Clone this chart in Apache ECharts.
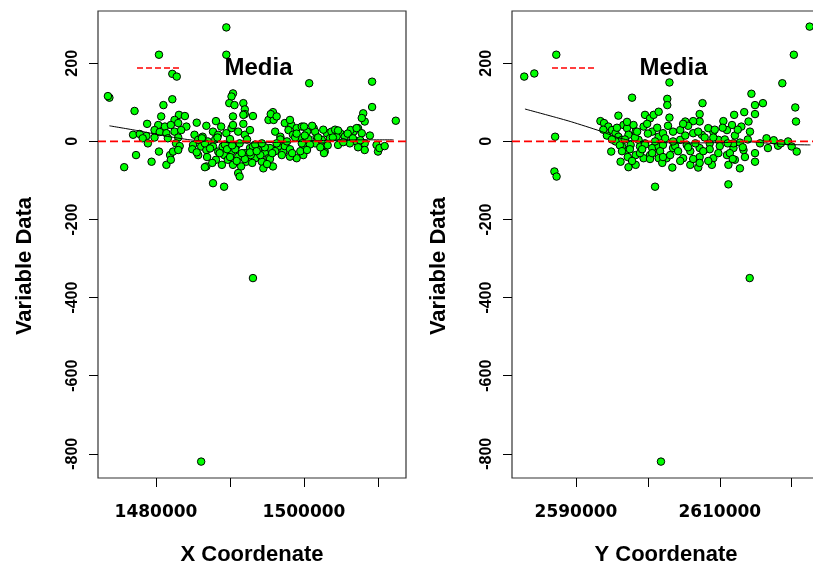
<!DOCTYPE html>
<html>
<head>
<meta charset="utf-8">
<script src="https://cdn.jsdelivr.net/npm/echarts@6.0.0/dist/echarts.min.js"></script>
<style>
  html, body { margin: 0; padding: 0; background: #fff; }
  #chart { width: 813px; height: 567px; }
</style>
</head>
<body>
<div id="chart"></div>
<script>
// Sample values plotted against the X coordinate: [X, value]
const xCoordPoints = [
  [1489500, 292], [1480400, 222], [1489500, 222], [1482200, 173], [1482800, 166],
  [1473700, 112], [1473500, 116], [1490400, 123], [1490200, 115], [1482200, 108],
  [1481000, 93], [1477100, 78], [1489900, 98], [1490600, 93], [1491800, 98],
  [1492000, 82], [1492000, 70], [1490400, 64], [1480700, 64], [1483100, 68],
  [1483900, 65], [1482500, 55], [1478800, 45], [1480300, 42], [1481200, 38],
  [1482000, 42], [1483000, 47], [1484100, 38], [1485500, 48], [1488100, 52],
  [1486800, 40], [1491800, 45], [1490200, 34], [1479800, 29], [1480500, 24],
  [1481400, 21], [1482500, 25], [1483400, 29], [1476900, 17], [1477800, 19],
  [1478700, 14], [1478200, 8], [1479800, 10], [1481600, 8], [1483000, 10],
  [1478900, -5], [1482700, -5], [1483200, -12], [1485200, 17], [1485700, 4],
  [1485000, -9], [1486300, 12], [1487000, 0], [1487700, 25], [1488400, 17],
  [1488800, 38], [1489500, 21], [1490000, 6], [1491100, 25], [1492000, 17],
  [1492700, 29], [1486100, -13], [1486800, -22], [1487700, -13], [1488400, -26],
  [1489000, -13], [1489200, -35], [1490200, -26], [1490800, -13], [1491100, -39],
  [1492000, -30], [1492700, -17], [1492200, -52], [1492900, -43], [1491500, -64],
  [1491100, -81], [1491300, -90], [1486800, -64], [1486600, -66], [1487700, -107],
  [1489200, -116], [1477300, -35], [1480400, -26], [1479400, -52], [1475700, -66],
  [1481400, -60], [1481900, -35], [1482300, -26], [1482000, -47], [1483000, -22],
  [1485700, -35], [1488100, -47], [1489700, -47], [1490400, -60], [1490400, 42],
  [1491800, 68],
  [1500700, 149], [1509200, 153], [1509200, 88], [1512400, 53], [1493100, 65],
  [1495800, 75], [1495200, 55], [1495900, 55], [1495500, 70], [1508000, 72],
  [1508200, 51], [1507800, 60], [1507300, 34], [1506700, 25], [1507800, 21],
  [1506300, 29], [1497400, 47], [1498300, 42], [1497900, 29], [1499000, 34],
  [1499700, 38], [1500400, 25], [1501300, 34], [1496100, 25], [1496800, 12],
  [1498500, 17], [1499500, 8], [1500600, 6], [1501700, 12], [1502400, 4],
  [1503100, 21], [1503700, 25], [1504900, 21], [1504600, -9], [1502800, -26],
  [1502400, -13], [1501500, -5], [1500100, -13], [1499900, -35], [1499000, -43],
  [1498100, -39], [1497200, -26], [1496500, -13], [1495400, -17], [1494700, -30],
  [1493800, -22], [1493100, -13], [1493400, -43], [1494300, -52], [1494500, -69],
  [1495800, -64], [1495200, -43], [1492800, -35], [1507100, 0], [1508200, -5],
  [1508200, -22], [1509800, -9], [1510000, -26], [1510200, -17], [1497200, 0],
  [1496300, 64], [1498100, 55], [1500000, 38], [1504400, 12], [1507100, 34],
  [1502700, -30],
  [1486600, -5], [1487300, -18], [1488000, 5], [1488600, -30], [1489300, -8],
  [1490000, -40], [1490700, -20], [1491300, -5], [1492000, -45], [1492700, -28],
  [1493400, -8], [1494100, -35], [1494700, -15], [1495400, -45], [1496100, -25],
  [1496800, 5], [1497400, -12], [1498100, -20], [1498800, 10], [1499500, -25],
  [1500100, 15], [1500800, -8], [1501500, 25], [1502200, -15], [1503500, 8],
  [1504200, 30], [1505500, 12], [1506200, -5], [1507600, 3], [1508900, 15],
  [1510900, -12],
  [1484900, -20], [1485500, -28], [1486200, 8], [1486900, -40], [1487600, -55],
  [1488300, 10], [1488900, -60], [1489600, -20], [1490300, -10], [1490900, -50],
  [1491600, -30], [1492300, 5], [1493000, -55], [1493600, -25], [1494300, -5],
  [1495000, -58], [1495700, -30], [1496300, -5], [1497000, -35], [1497700, 0],
  [1498400, -30], [1499000, 20], [1499700, -5], [1500400, -22], [1501100, 40],
  [1501900, 10], [1502600, 30], [1503200, -10], [1503900, 10], [1504600, 28],
  [1505300, -2], [1505900, 20], [1506600, 8], [1507300, -15],
  [1493100, -350], [1486100, -820]
];

// Sample values plotted against the Y coordinate: [Y, value]
const yCoordPoints = [
  [2587260, 222], [2582800, 166], [2584200, 174], [2597800, 112], [2587100, 12],
  [2587000, -77], [2587300, -90], [2595900, 66], [2593400, 52], [2593900, 47],
  [2594500, 38], [2595000, 29], [2595500, 21], [2595900, 12], [2596400, 4],
  [2596600, 42], [2597100, 34], [2597300, 17], [2598000, 42], [2598300, 25],
  [2598700, 4], [2598900, -13], [2599600, 68], [2600300, 59], [2600800, 68],
  [2601500, 76], [2599400, 38], [2600600, 25], [2601500, 12], [2599600, -5],
  [2600600, -17], [2601500, -13], [2598300, -35], [2599400, -43], [2600300, -35],
  [2601500, -43], [2594900, -26], [2596200, -52], [2597300, -66], [2598300, -60],
  [2601000, -116], [2597600, -9], [2597200, -22], [2595500, 0], [2596400, -13],
  [2622500, 294], [2620300, 222], [2618700, 149], [2614400, 122], [2603000, 151],
  [2602700, 109], [2602700, 93], [2607600, 98], [2616000, 98], [2614900, 93],
  [2614900, 70], [2613400, 75], [2620500, 87], [2620600, 51], [2603000, 61],
  [2607200, 70], [2607200, 51], [2605200, 51], [2606300, 52], [2610500, 52],
  [2612000, 68], [2614000, 51], [2613000, 38], [2614200, 25], [2611700, 42],
  [2611000, 29], [2609100, 25], [2608400, 34], [2603500, 25], [2602100, 21],
  [2604500, 29], [2606300, 21], [2607500, 17], [2616500, 8], [2618100, -11],
  [2619500, 0], [2620000, -13], [2620700, -26], [2616700, -17], [2614900, -30],
  [2614900, -52], [2613300, -22], [2611900, -17], [2612100, -47], [2612800, -69],
  [2611200, -60], [2611000, -35], [2609100, -43], [2607000, -67], [2605900, -60],
  [2603400, -67], [2611200, -110], [2604900, -43], [2602600, -43], [2603500, -17],
  [2605400, -9], [2607200, -17], [2608600, -5], [2609800, 4], [2604500, 4],
  [2602100, -9], [2611900, -5], [2615600, -5], [2618500, -5], [2617500, 3],
  [2596800, 5], [2597500, -20], [2598200, 10], [2598900, -30], [2599600, -8],
  [2600300, -45], [2601000, 0], [2601700, -25], [2602400, 8], [2603100, -35],
  [2603800, -12], [2604500, -50], [2605200, 15], [2605900, -25], [2606600, -5],
  [2607200, -40], [2607900, 10], [2608600, -20], [2609300, 30], [2610000, -12],
  [2610700, 5], [2611400, -30], [2612100, 15], [2612800, -3], [2613500, -40],
  [2596100, -10], [2597200, -40], [2600000, 20], [2602000, -55], [2605600, 40],
  [2607200, -55], [2608900, -60],
  [2593800, 30], [2594300, 15], [2595000, 5], [2595700, 35], [2596400, -25],
  [2597100, 50], [2597800, -50], [2598500, 25], [2599200, -20], [2599900, 45],
  [2600600, -30], [2601300, 35], [2602100, -40], [2602800, 40], [2603500, 0],
  [2604200, -25], [2604900, 45], [2605600, -15], [2606300, -45], [2607000, 25],
  [2607700, -25], [2608400, -50], [2609100, 10], [2609800, -30], [2610400, 35],
  [2611100, -5], [2611800, -45], [2612500, 30], [2613200, -15], [2613900, 5],
  [2614160, -350], [2601820, -820]
];

// Smoothed trend of the values along each coordinate
const xTrend = [
  [1473700, 40], [1477400, 28], [1481200, 14], [1484600, 4], [1488000, -1],
  [1491300, -4], [1495400, -3], [1499500, 0], [1503500, 3], [1507600, 4], [1512100, 4]
];
const yTrend = [
  [2582900, 83], [2587100, 62], [2589400, 50], [2593300, 27], [2595800, 10],
  [2598000, 1], [2602000, -3], [2606000, -4], [2610000, -3], [2614000, -1],
  [2617000, -5], [2619500, -8], [2622600, -9]
];

// Mean of the variable ("Media")
const mediaValue = 0;

// Axis extents and tick positions
const valueRange = [-862, 334];
const valueTicks = [-800, -600, -400, -200, 0, 200];
const xRange = [1472160, 1513780];
const xTicks = [1480000, 1490000, 1500000, 1510000];
const xTickLabels = [1480000, 1500000];
const yRange = [2581100, 2623940];
const yTicks = [2590000, 2600000, 2610000, 2620000];
const yTickLabels = [2590000, 2610000];

const BLACK = '#000';
const dashIcon = 'path://M0,0H8V2H0Z M12,0H20V2H12Z M24,0H32V2H24Z M36,0H44V2H36Z M48,0H56V2H48Z';

function coordAxis(gridIndex, range, ticks, labels, name) {
  return {
    type: 'value', gridIndex, min: range[0], max: range[1],
    name, nameLocation: 'middle', nameGap: 66,
    nameTextStyle: { fontFamily: 'Liberation Sans', fontWeight: 'bold', fontSize: 22, color: BLACK },
    axisLine: { show: false, onZero: false },
    splitLine: { show: false },
    axisTick: { show: true, customValues: ticks, length: 9, lineStyle: { color: BLACK, width: 1 } },
    axisLabel: {
      customValues: labels, margin: 26,
      fontFamily: 'DejaVu Sans', fontWeight: 'bold', fontSize: 17, color: BLACK,
      formatter: v => String(v)
    }
  };
}

function valueAxis(gridIndex) {
  return {
    type: 'value', gridIndex, min: valueRange[0], max: valueRange[1],
    name: 'Variable Data', nameLocation: 'middle', nameGap: 62, nameRotate: 90,
    nameTextStyle: {
      fontFamily: 'Liberation Sans', fontWeight: 'bold', fontSize: 22, color: BLACK,
      padding: [0, 43, 0, 0]
    },
    axisLine: { show: false, onZero: false },
    splitLine: { show: false },
    axisTick: { show: true, customValues: valueTicks, length: 9, lineStyle: { color: BLACK, width: 1 } },
    axisLabel: {
      customValues: valueTicks, rotate: 90, margin: 17,
      fontFamily: 'Liberation Sans', fontWeight: 'bold', fontSize: 16, color: BLACK,
      formatter: v => String(v)
    }
  };
}

function scatterSeries(idx, data) {
  return {
    type: 'scatter', xAxisIndex: idx, yAxisIndex: idx, data,
    symbol: 'circle', symbolSize: 7.5,
    itemStyle: { color: '#00ff00', borderColor: BLACK, borderWidth: 1, opacity: 1 },
    z: 3
  };
}

function trendSeries(idx, data) {
  return {
    type: 'line', xAxisIndex: idx, yAxisIndex: idx, data, smooth: 0.2,
    symbol: 'none', lineStyle: { color: BLACK, width: 1 }, z: 4
  };
}

function mediaSeries(idx, range) {
  return {
    type: 'line', name: 'Media', xAxisIndex: idx, yAxisIndex: idx,
    data: [[range[0], mediaValue], [range[1], mediaValue]],
    symbol: 'none', color: '#ff0000',
    lineStyle: { color: '#ff0000', width: 1.6, type: [8, 4] },
    itemStyle: { color: '#ff0000' },
    z: 5
  };
}

function mediaLegend(left) {
  return {
    left, top: 56, padding: 0, selectedMode: false,
    data: [{ name: 'Media', icon: dashIcon }],
    itemWidth: 59, itemHeight: 1.5,
    textStyle: {
      fontFamily: 'Liberation Sans', fontWeight: 'bold', fontSize: 24, color: BLACK,
      padding: [0, 0, 0, 32]
    }
  };
}

const chart = echarts.init(document.getElementById('chart'), null, { renderer: 'canvas' });
chart.setOption({
  animation: false,
  backgroundColor: '#fff',
  grid: [
    { left: 98, top: 11, width: 308, height: 467, outerBoundsMode: 'none', containLabel: false,
      show: true, borderColor: '#333', borderWidth: 1.2 },
    { left: 512, top: 11, width: 308, height: 467, outerBoundsMode: 'none', containLabel: false,
      show: true, borderColor: '#333', borderWidth: 1.2 }
  ],
  xAxis: [
    coordAxis(0, xRange, xTicks, xTickLabels, 'X Coordenate'),
    coordAxis(1, yRange, yTicks, yTickLabels, 'Y Coordenate')
  ],
  yAxis: [valueAxis(0), valueAxis(1)],
  legend: [mediaLegend(137), mediaLegend(552)],
  series: [
    scatterSeries(0, xCoordPoints),
    scatterSeries(1, yCoordPoints),
    trendSeries(0, xTrend),
    trendSeries(1, yTrend),
    mediaSeries(0, xRange),
    mediaSeries(1, yRange)
  ]
});
</script>
</body>
</html>
